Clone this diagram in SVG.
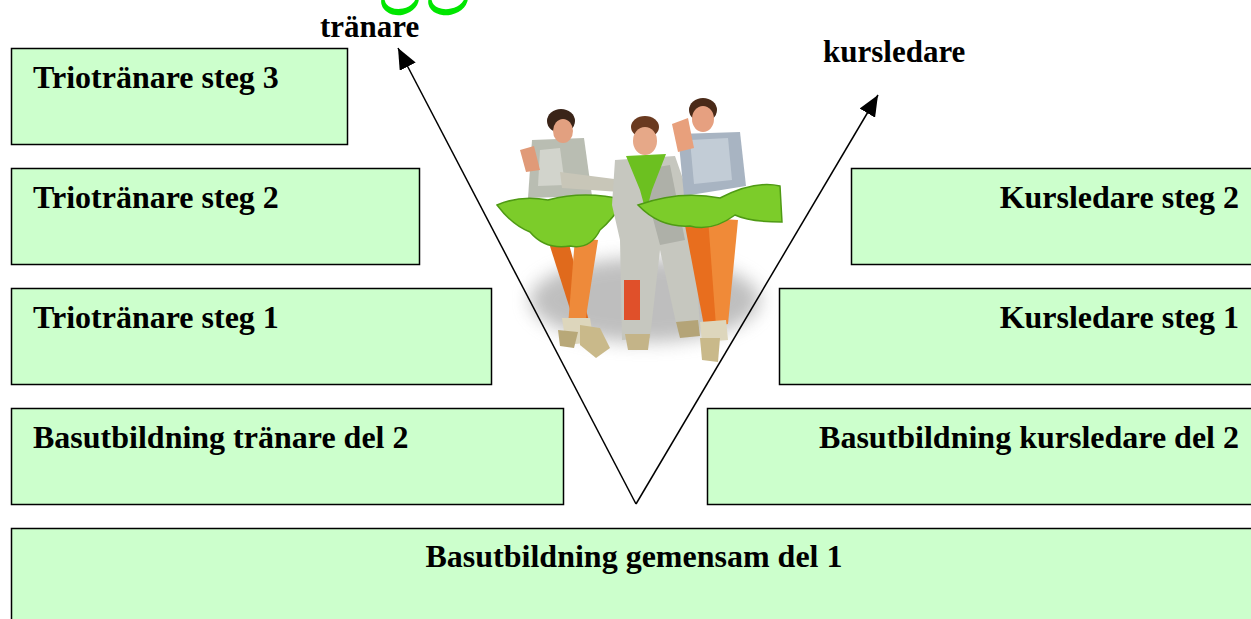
<svg xmlns="http://www.w3.org/2000/svg" width="1251" height="619" viewBox="0 0 1251 619">
<style>
.box{fill:#ccffcc;stroke:#000;stroke-width:1.5}
.lbl{font-family:"Liberation Serif","Times New Roman",serif;font-weight:bold;font-size:32px;fill:#000}
.ttl{font-family:"Liberation Serif","Times New Roman",serif;font-weight:bold;font-size:31px;fill:#000}
.conn{stroke:#000;stroke-width:1.5;fill:none;marker-end:url(#ah)}
</style>
<defs>
<marker id="ah" markerUnits="userSpaceOnUse" markerWidth="22" markerHeight="18" refX="21" refY="9" orient="auto">
<path d="M0,0 L21,9 L0,18 Z" fill="#000"/>
</marker>
<filter id="blur" x="-30%" y="-30%" width="160%" height="160%"><feGaussianBlur stdDeviation="9"/></filter>
</defs>
<rect width="1251" height="619" fill="#fff"/>

<g id="wordart-fragment" fill="#00e600" fill-rule="evenodd">
<path transform="rotate(-12 400 0)" d="M381,0 a19,15 0 1,0 38,0 a19,15 0 1,0 -38,0 Z M385,-3 a16,12 0 1,0 32,0 a16,12 0 1,0 -32,0 Z"/>
<path transform="rotate(-12 448 0)" d="M428,0 a20,15 0 1,0 40,0 a20,15 0 1,0 -40,0 Z M432,-3 a17,12 0 1,0 34,0 a17,12 0 1,0 -34,0 Z"/>
</g>

<g id="photo">
<ellipse cx="645" cy="300" rx="115" ry="42" fill="#8a8a8a" opacity="0.55" filter="url(#blur)"/>
<path d="M548,240 L568,240 L590,325 L576,328 Z" fill="#e06a1c"/>
<path d="M575,238 L598,240 L584,330 L568,326 Z" fill="#ee8a3a"/>
<path d="M562,318 L590,318 L594,342 L566,345 Z" fill="#ddd6bc"/>
<path d="M580,325 L600,328 L610,348 L596,358 L580,345 Z" fill="#c9b98a"/>
<path d="M558,330 L578,332 L574,348 L560,346 Z" fill="#b8a878"/>
<path d="M532,140 L584,138 L592,196 L528,198 Z" fill="#b9bdb2"/>
<path d="M540,150 L560,148 L565,185 L538,186 Z" fill="#d2d4cc"/>
<path d="M560,172 L622,180 L620,192 L562,188 Z" fill="#c8c6b8"/>
<path d="M520,150 L534,146 L540,170 L526,172 Z" fill="#e09a78"/>
<ellipse cx="561" cy="121" rx="14" ry="12" fill="#3a2418"/>
<ellipse cx="563" cy="131" rx="10" ry="12" fill="#e2a080"/>
<path d="M497,205 Q520,195 548,200 Q585,190 625,200 Q612,220 600,230 Q590,250 570,246 Q545,250 530,232 Q512,225 497,205 Z" fill="#7ccc2a" stroke="#4f9a14" stroke-width="1.5"/>
<path d="M615,160 L675,156 L692,205 L700,328 L678,332 L660,250 L650,338 L622,340 L620,240 L612,205 Z" fill="#c6c7bf"/>
<path d="M640,170 L670,165 L685,240 L660,245 Z" fill="#aeb0a8"/>
<rect x="624" y="280" width="16" height="40" fill="#e0502a"/>
<path d="M626,156 L666,154 L652,190 L646,212 L640,190 Z" fill="#6cc020"/>
<ellipse cx="645" cy="127" rx="14" ry="11" fill="#6a3a20"/>
<ellipse cx="645" cy="141" rx="12" ry="14" fill="#e6a888"/>
<path d="M625,334 L650,334 L648,350 L628,350 Z" fill="#c4b488"/>
<path d="M676,322 L698,320 L700,336 L680,338 Z" fill="#b4a478"/>
<path d="M684,220 L712,220 L722,322 L704,326 Z" fill="#e86e1e"/>
<path d="M708,218 L738,220 L728,324 L716,326 Z" fill="#f08a38"/>
<path d="M700,322 L726,320 L728,340 L702,342 Z" fill="#ddd6bc"/>
<path d="M700,338 L720,338 L718,362 L702,360 Z" fill="#c9b98a"/>
<path d="M678,134 L740,132 L746,186 L684,196 Z" fill="#a8b4c2"/>
<path d="M690,140 L728,138 L732,180 L694,184 Z" fill="#c2ccd6"/>
<path d="M672,124 L688,118 L694,148 L678,152 Z" fill="#e8a07c"/>
<ellipse cx="703" cy="110" rx="14" ry="12" fill="#4a2a18"/>
<ellipse cx="703" cy="119" rx="11" ry="13" fill="#e6a080"/>
<path d="M638,205 Q680,190 720,198 Q755,180 780,186 L782,222 Q750,222 735,215 Q712,232 690,226 Q660,228 638,205 Z" fill="#7ccc2a" stroke="#4f9a14" stroke-width="1.5"/>
</g>

<g id="connectors">
<line class="conn" x1="636" y1="504" x2="398" y2="48"/>
<line class="conn" x1="636" y1="504" x2="878" y2="95"/>
</g>

<g id="label-tranare"><text class="ttl" x="320" y="37">tränare</text></g>
<g id="label-kursledare"><text class="ttl" x="823" y="62">kursledare</text></g>

<g id="trio3"><rect class="box" x="11.5" y="48.5" width="336" height="96"/><text class="lbl" x="33" y="88">Triotränare steg 3</text></g>
<g id="trio2"><rect class="box" x="11.5" y="168.5" width="408" height="96"/><text class="lbl" x="33" y="208">Triotränare steg 2</text></g>
<g id="trio1"><rect class="box" x="11.5" y="288.5" width="480" height="96"/><text class="lbl" x="33" y="328">Triotränare steg 1</text></g>
<g id="bas-tranare"><rect class="box" x="11.5" y="408.5" width="552" height="96"/><text class="lbl" x="33" y="448">Basutbildning tränare del 2</text></g>

<g id="kurs2"><rect class="box" x="851.5" y="168.5" width="401" height="96"/><text class="lbl" x="1239" y="208" text-anchor="end">Kursledare steg 2</text></g>
<g id="kurs1"><rect class="box" x="779.5" y="288.5" width="473" height="96"/><text class="lbl" x="1239" y="328" text-anchor="end">Kursledare steg 1</text></g>
<g id="bas-kurs"><rect class="box" x="707.5" y="408.5" width="545" height="96"/><text class="lbl" x="1239" y="448" text-anchor="end">Basutbildning kursledare del 2</text></g>

<g id="bas-gemensam"><rect class="box" x="11.5" y="528.5" width="1241" height="92"/><text class="lbl" x="634" y="567" text-anchor="middle">Basutbildning gemensam del 1</text></g>
</svg>
